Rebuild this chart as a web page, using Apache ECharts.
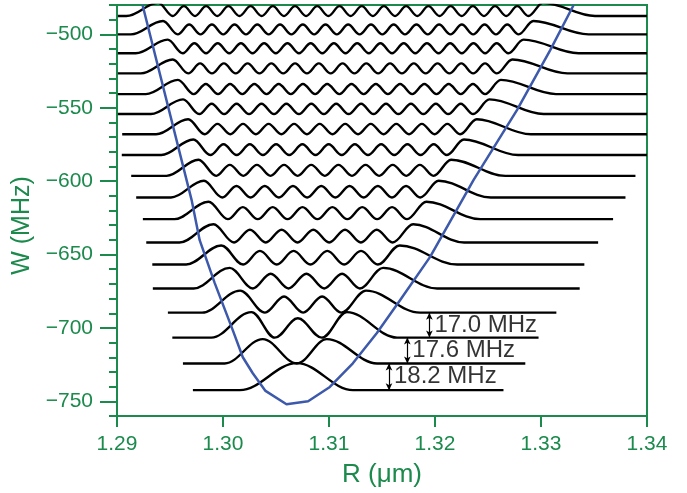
<!DOCTYPE html>
<html>
<head>
<meta charset="utf-8">
<script src="https://cdn.jsdelivr.net/npm/echarts@6.0.0/dist/echarts.min.js"></script>
<style>
  html, body { margin: 0; padding: 0; background: #fff; }
  #chart { width: 687px; height: 493px; }
</style>
</head>
<body>
<div id="chart"></div>
<script>
// level energies W (MHz), from v = 0 (bottom) to v = 17 (top)
const levels = [-742.4, -724.2, -706.6, -689.6, -673.1, -656.8, -641.8, -625.9, -611.1,
  -596.4, -582.2, -568.1, -554.3, -540.7, -526.6, -512.9, -500.0, -487.5];

// where each flat baseline starts / ends (um)
const lineStart = [1.29716, 1.29622, 1.29522, 1.29480, 1.29338, 1.29333, 1.29276, 1.29244, 1.29181,
  1.29134, 1.29045, 1.29049, 1.29008, 1.29008, 1.29008, 1.29008, 1.29008, 1.29008];
const lineEnd = [1.32646, 1.32852, 1.32977, 1.33145, 1.33365, 1.33409, 1.33539, 1.33680, 1.33797,
  1.33891, 1.34, 1.34, 1.34, 1.34, 1.34, 1.34, 1.34, 1.34];

// where the curve leaves the baseline on each side (um)
const leftFoot = [1.30158, 1.30016, 1.29890, 1.29802, 1.29723, 1.29652, 1.29589, 1.29542, 1.29509,
  1.29467, 1.29418, 1.29369, 1.29320, 1.29272, 1.29224, 1.29176, 1.29131, 1.29088];
const rightFoot = [1.31226, 1.31453, 1.31642, 1.31859, 1.32020, 1.32209, 1.32275, 1.32426, 1.32526,
  1.32663, 1.32784, 1.32905, 1.33024, 1.33141, 1.33250, 1.33354, 1.33448, 1.33510];

// peak heights above the baseline (MHz): outer peaks, inner peaks
const outerH = [18.4, 16.6, 17.4, 15.0, 14.0, 13.0, 12.4, 11.9, 11.4, 11.0, 10.6, 10.3, 10.0, 9.7, 9.5, 9.3, 9.1, 9.0];
const innerH = [0, 0, 13.2, 11.0, 10.0, 9.3, 8.7, 8.2, 7.8, 7.5, 7.3, 7.1, 7.0, 6.9, 6.8, 6.8, 6.7, 6.7];

// extrema of each density curve (um): peak, node, peak, ... , peak
const extrema = [
  [1.30697],
  [1.30375, 1.30697, 1.30980],
  [1.30268, 1.30489, 1.30706, 1.30933, 1.31169],
  [1.30162, 1.30396, 1.30576, 1.30756, 1.30935, 1.31115, 1.31349],
  [1.30063, 1.30282, 1.30450, 1.30618, 1.30787, 1.30955, 1.31123, 1.31291, 1.31510],
  [1.29983, 1.30190, 1.30348, 1.30507, 1.30666, 1.30825, 1.30984, 1.31143, 1.31302, 1.31461, 1.31667],
  [1.29910, 1.30104, 1.30254, 1.30403, 1.30553, 1.30703, 1.30852, 1.31002, 1.31151, 1.31301, 1.31450,
    1.31600, 1.31794],
  [1.29863, 1.30046, 1.30187, 1.30328, 1.30469, 1.30609, 1.30750, 1.30891, 1.31032, 1.31173, 1.31314,
    1.31454, 1.31595, 1.31736, 1.31919],
  [1.29820, 1.29993, 1.30127, 1.30260, 1.30394, 1.30527, 1.30660, 1.30794, 1.30927, 1.31060, 1.31194,
    1.31327, 1.31461, 1.31594, 1.31727, 1.31861, 1.32034],
  [1.29769, 1.29936, 1.30064, 1.30192, 1.30320, 1.30448, 1.30576, 1.30704, 1.30832, 1.30961, 1.31089,
    1.31217, 1.31345, 1.31473, 1.31601, 1.31729, 1.31857, 1.31986, 1.32152],
  [1.29720, 1.29881, 1.30005, 1.30129, 1.30253, 1.30377, 1.30501, 1.30625, 1.30749, 1.30873, 1.30997,
    1.31120, 1.31244, 1.31368, 1.31492, 1.31616, 1.31740, 1.31864, 1.31988, 1.32112, 1.32273],
  [1.29671, 1.29828, 1.29948, 1.30069, 1.30189, 1.30310, 1.30430, 1.30551, 1.30671, 1.30792, 1.30912,
    1.31033, 1.31153, 1.31274, 1.31394, 1.31515, 1.31635, 1.31755, 1.31876, 1.31996, 1.32117, 1.32237,
    1.32394],
  [1.29623, 1.29776, 1.29893, 1.30011, 1.30128, 1.30246, 1.30363, 1.30481, 1.30598, 1.30716, 1.30833,
    1.30951, 1.31068, 1.31185, 1.31303, 1.31420, 1.31538, 1.31655, 1.31773, 1.31890, 1.32008, 1.32125,
    1.32243, 1.32360, 1.32513],
  [1.29575, 1.29724, 1.29838, 1.29953, 1.30067, 1.30182, 1.30296, 1.30411, 1.30525, 1.30640, 1.30754,
    1.30869, 1.30983, 1.31098, 1.31212, 1.31327, 1.31442, 1.31556, 1.31671, 1.31785, 1.31900, 1.32014,
    1.32129, 1.32243, 1.32358, 1.32472, 1.32621],
  [1.29526, 1.29672, 1.29784, 1.29896, 1.30008, 1.30120, 1.30232, 1.30344, 1.30456, 1.30568, 1.30680,
    1.30792, 1.30904, 1.31016, 1.31128, 1.31240, 1.31352, 1.31464, 1.31576, 1.31688, 1.31800, 1.31912,
    1.32024, 1.32136, 1.32248, 1.32360, 1.32472, 1.32584, 1.32730],
  [1.29478, 1.29621, 1.29730, 1.29840, 1.29950, 1.30059, 1.30169, 1.30279, 1.30388, 1.30498, 1.30608,
    1.30717, 1.30827, 1.30937, 1.31046, 1.31156, 1.31266, 1.31376, 1.31485, 1.31595, 1.31705, 1.31814,
    1.31924, 1.32034, 1.32143, 1.32253, 1.32363, 1.32473, 1.32582, 1.32692, 1.32835],
  [1.29434, 1.29573, 1.29681, 1.29788, 1.29895, 1.30002, 1.30109, 1.30217, 1.30324, 1.30431, 1.30538,
    1.30645, 1.30753, 1.30860, 1.30967, 1.31074, 1.31181, 1.31289, 1.31396, 1.31503, 1.31610, 1.31717,
    1.31825, 1.31932, 1.32039, 1.32146, 1.32253, 1.32360, 1.32468, 1.32575, 1.32682, 1.32789, 1.32928],
  [1.29390, 1.29526, 1.29631, 1.29736, 1.29841, 1.29946, 1.30051, 1.30155, 1.30260, 1.30365, 1.30470,
    1.30575, 1.30680, 1.30784, 1.30889, 1.30994, 1.31099, 1.31204, 1.31309, 1.31414, 1.31518, 1.31623,
    1.31728, 1.31833, 1.31938, 1.32043, 1.32147, 1.32252, 1.32357, 1.32462, 1.32567, 1.32672, 1.32776,
    1.32881, 1.33018]
];

// potential curve (blue)
const potR = [1.29241, 1.29704, 1.29780, 1.29922, 1.30092, 1.30187, 1.30281, 1.30401, 1.30599, 1.30803,
  1.31008, 1.31225, 1.31450, 1.31670, 1.31954, 1.32363, 1.32773, 1.33087, 1.33308];
const potW = [-480, -612.9, -640.2, -669.5, -701.5, -720.0, -730.9, -742.9, -752.0, -749.9,
  -740.2, -724.1, -703.6, -681.1, -651.6, -599.3, -551.6, -510.7, -480];

// spacing annotations
const gapR = [1.31947, 1.31739, 1.31566];
const gapLevels = [[3, 2], [2, 1], [1, 0]];
const gapLabels = ['17.0 MHz', '17.6 MHz', '18.2 MHz'];

const xTicks = [1.29, 1.30, 1.31, 1.32, 1.33, 1.34];
const yTicks = [-750, -700, -650, -600, -550, -500];

const green = '#1b8a4c';
const font = 'Liberation Sans, Arial, sans-serif';

const chart = echarts.init(document.getElementById('chart'));

const series = [];
levels.forEach((E, v) => {
  const ex = extrema[v];
  const pts = [[lineStart[v], E], [leftFoot[v], E]];
  ex.forEach((r, i) => {
    if (i % 2 === 1) {
      pts.push([r, E]);
    } else {
      const outer = i === 0 || i === ex.length - 1;
      pts.push([r, E + (outer ? outerH[v] : innerH[v])]);
    }
  });
  pts.push([rightFoot[v], E], [lineEnd[v], E]);
  series.push({
    type: 'line',
    data: pts,
    symbol: 'none',
    smooth: 0.36,
    smoothMonotone: 'x',
    lineStyle: { color: '#000', width: 2.4 },
    z: 2,
  });
});

series.push({
  type: 'line',
  data: potR.map((r, i) => [r, potW[i]]),
  symbol: 'none',
  lineStyle: { color: '#3d59ab', width: 2.5 },
  z: 3,
});

series.push({
  type: 'scatter',
  symbolSize: 0,
  data: gapR.map((r, i) => [r, (levels[gapLevels[i][0]] + levels[gapLevels[i][1]]) / 2]),
  label: {
    show: true,
    position: 'right',
    distance: 5,
    formatter: (p) => gapLabels[p.dataIndex],
    color: '#000',
    fontFamily: font,
    fontSize: 24,
  },
  markLine: {
    silent: true,
    symbol: ['arrow', 'arrow'],
    symbolSize: [5, 7],
    label: { show: false },
    lineStyle: { color: '#000', width: 1.2, type: 'solid' },
    data: gapR.map((r, i) => [
      { coord: [r, levels[gapLevels[i][0]]] },
      { coord: [r, levels[gapLevels[i][1]]] },
    ]),
  },
  z: 4,
});

chart.setOption({
  animation: false,
  grid: {
    left: 117, right: 40, top: 5, bottom: 77,
    show: true, borderColor: green, borderWidth: 2,
    outerBoundsMode: 'none',
  },
  xAxis: {
    type: 'value',
    min: 1.29,
    max: 1.34,
    interval: 0.01,
    name: 'R (\u03bcm)',
    nameLocation: 'middle',
    nameGap: 46,
    nameTextStyle: { color: green, fontFamily: font, fontSize: 26 },
    axisLine: { lineStyle: { color: green, width: 2 } },
    axisTick: { length: 11, lineStyle: { color: green, width: 2 } },
    axisLabel: {
      color: green, fontFamily: font, fontSize: 21, margin: 18,
      customValues: xTicks,
      formatter: (v) => v.toFixed(2),
    },
    splitLine: { show: false },
  },
  yAxis: [
    {
      type: 'value',
      min: -760,
      max: -480,
      position: 'left',
      name: 'W (MHz)',
      nameLocation: 'middle',
      nameGap: 78,
      nameTextStyle: { color: green, fontFamily: font, fontSize: 25, padding: [0, 30, 0, 0] },
      axisLine: { lineStyle: { color: green, width: 2 } },
      axisTick: { length: 17, customValues: yTicks, lineStyle: { color: green, width: 2 } },
      axisLabel: {
        color: green, fontFamily: font, fontSize: 21, margin: 24,
        customValues: yTicks,
        formatter: (v) => String(v).replace('-', '\u2212'),
      },
      splitLine: { show: false },
    },
    {
      type: 'value',
      min: -760,
      max: -480,
      interval: 10,
      position: 'left',
      axisLine: { show: false },
      axisTick: { length: 8, lineStyle: { color: green, width: 2 } },
      axisLabel: { show: false },
      splitLine: { show: false },
    },
  ],
  series: series,
});
</script>
</body>
</html>
